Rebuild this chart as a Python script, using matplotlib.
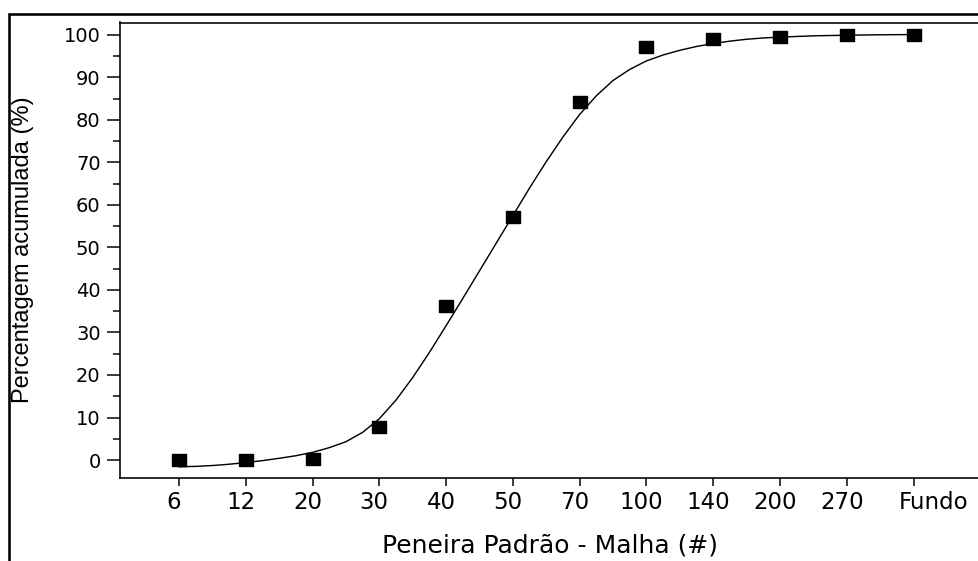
import matplotlib
matplotlib.use("Agg")
import matplotlib.pyplot as plt
from matplotlib.patches import Rectangle
from matplotlib.ticker import MultipleLocator
import matplotlib.transforms as mtransforms

# ---- data ----
categories = ["6", "12", "20", "30", "40", "50", "70", "100", "140", "200", "270", "Fundo"]
cumulative_pct = [0.0, 0.0, 0.2, 7.8, 36.2, 57.2, 84.2, 97.2, 99.0, 99.6, 99.9, 99.9]

# fitted curve (category index, value)
fit_x = [0, 0.25, 0.5, 0.75, 1, 1.25, 1.5, 1.75, 2, 2.25, 2.5, 2.75, 3, 3.25, 3.5,
         3.75, 4, 4.25, 4.5, 4.75, 5, 5.25, 5.5, 5.75, 6, 6.25, 6.5, 6.75, 7, 7.25,
         7.5, 7.75, 8, 8.25, 8.5, 8.75, 9, 9.5, 10, 10.5, 11]
fit_y = [-1.6, -1.5, -1.3, -1.0, -0.6, -0.15, 0.4, 1.0, 1.8, 2.9, 4.3, 6.5, 9.7, 14.1, 19.4,
         25.3, 31.6, 38.0, 44.5, 51.0, 57.5, 64.0, 70.2, 76.0, 81.3, 85.7, 89.3, 91.9, 93.9, 95.3,
         96.4, 97.3, 98.0, 98.55, 99.0, 99.3, 99.5, 99.8, 99.95, 100.05, 100.1]

y_ticks = list(range(0, 101, 10))
x_label = "Peneira Padrão - Malha (#)"
y_label = "Percentagem acumulada (%)"

W, H = 979, 561
PX = 72 / 100  # points per pixel
fig = plt.figure(figsize=(W / 100, H / 100), dpi=100)
fig.patch.set_facecolor("white")

ax_left, ax_right, ax_top, ax_bottom = 120, 987, 22.5, 478
ax = fig.add_axes([ax_left / W, 1 - ax_bottom / H, (ax_right - ax_left) / W, (ax_bottom - ax_top) / H])

xpos = list(range(len(categories)))
ax.plot(fit_x, fit_y, color="black", lw=1.1 * PX * 1.3, zorder=2)
rect_marker = [(-1, -0.786), (1, -0.786), (1, 0.786), (-1, 0.786), (-1, -0.786)]
ax.plot(xpos, cumulative_pct, linestyle="none", marker=rect_marker, markersize=14 * PX,
        color="black", zorder=3)

ax.set_xlim(-0.883, 12.1)
ax.set_ylim(-4.235, 102.94)

ax.set_xticks(xpos)
ax.set_xticklabels(categories, fontfamily="DejaVu Sans", fontsize=16.5)
ax.set_yticks(y_ticks)
ax.set_yticklabels([str(v) for v in y_ticks], fontfamily="DejaVu Sans", fontsize=14)
ax.yaxis.set_minor_locator(MultipleLocator(5))

ax.tick_params(axis="x", direction="out", length=8 * PX, width=1.5 * PX, pad=3.5, colors="black")
ax.tick_params(axis="y", which="major", direction="out", length=13 * PX, width=1.5 * PX, pad=4.5)
ax.tick_params(axis="y", which="minor", direction="out", length=7 * PX, width=1.5 * PX)

# the "Fundo" label sits a little right of its tick in the reference
for lab in ax.get_xticklabels():
    if lab.get_text() == "Fundo":
        lab.set_transform(lab.get_transform() + mtransforms.ScaledTranslation(20 / 100, 0, fig.dpi_scale_trans))
    else:
        lab.set_transform(lab.get_transform() + mtransforms.ScaledTranslation(-5 / 100, 0, fig.dpi_scale_trans))

for s in ax.spines.values():
    s.set_linewidth(1.6 * PX)
    s.set_color("black")

fig.text(550 / W, 1 - 546 / H, x_label, ha="center", va="center",
         fontfamily="DejaVu Sans", fontsize=18)
fig.text(23 / W, 1 - 250 / H, y_label, ha="center", va="center", rotation=90,
         fontfamily="Liberation Sans", fontsize=17)

frame = Rectangle((9 / W, -0.1), 1.2, 1.1 - 14 / H, fill=False, lw=2.6 * PX,
                  edgecolor="black", transform=fig.transFigure, clip_on=False)
fig.add_artist(frame)

fig.savefig("out.png", dpi=100, facecolor="white")
